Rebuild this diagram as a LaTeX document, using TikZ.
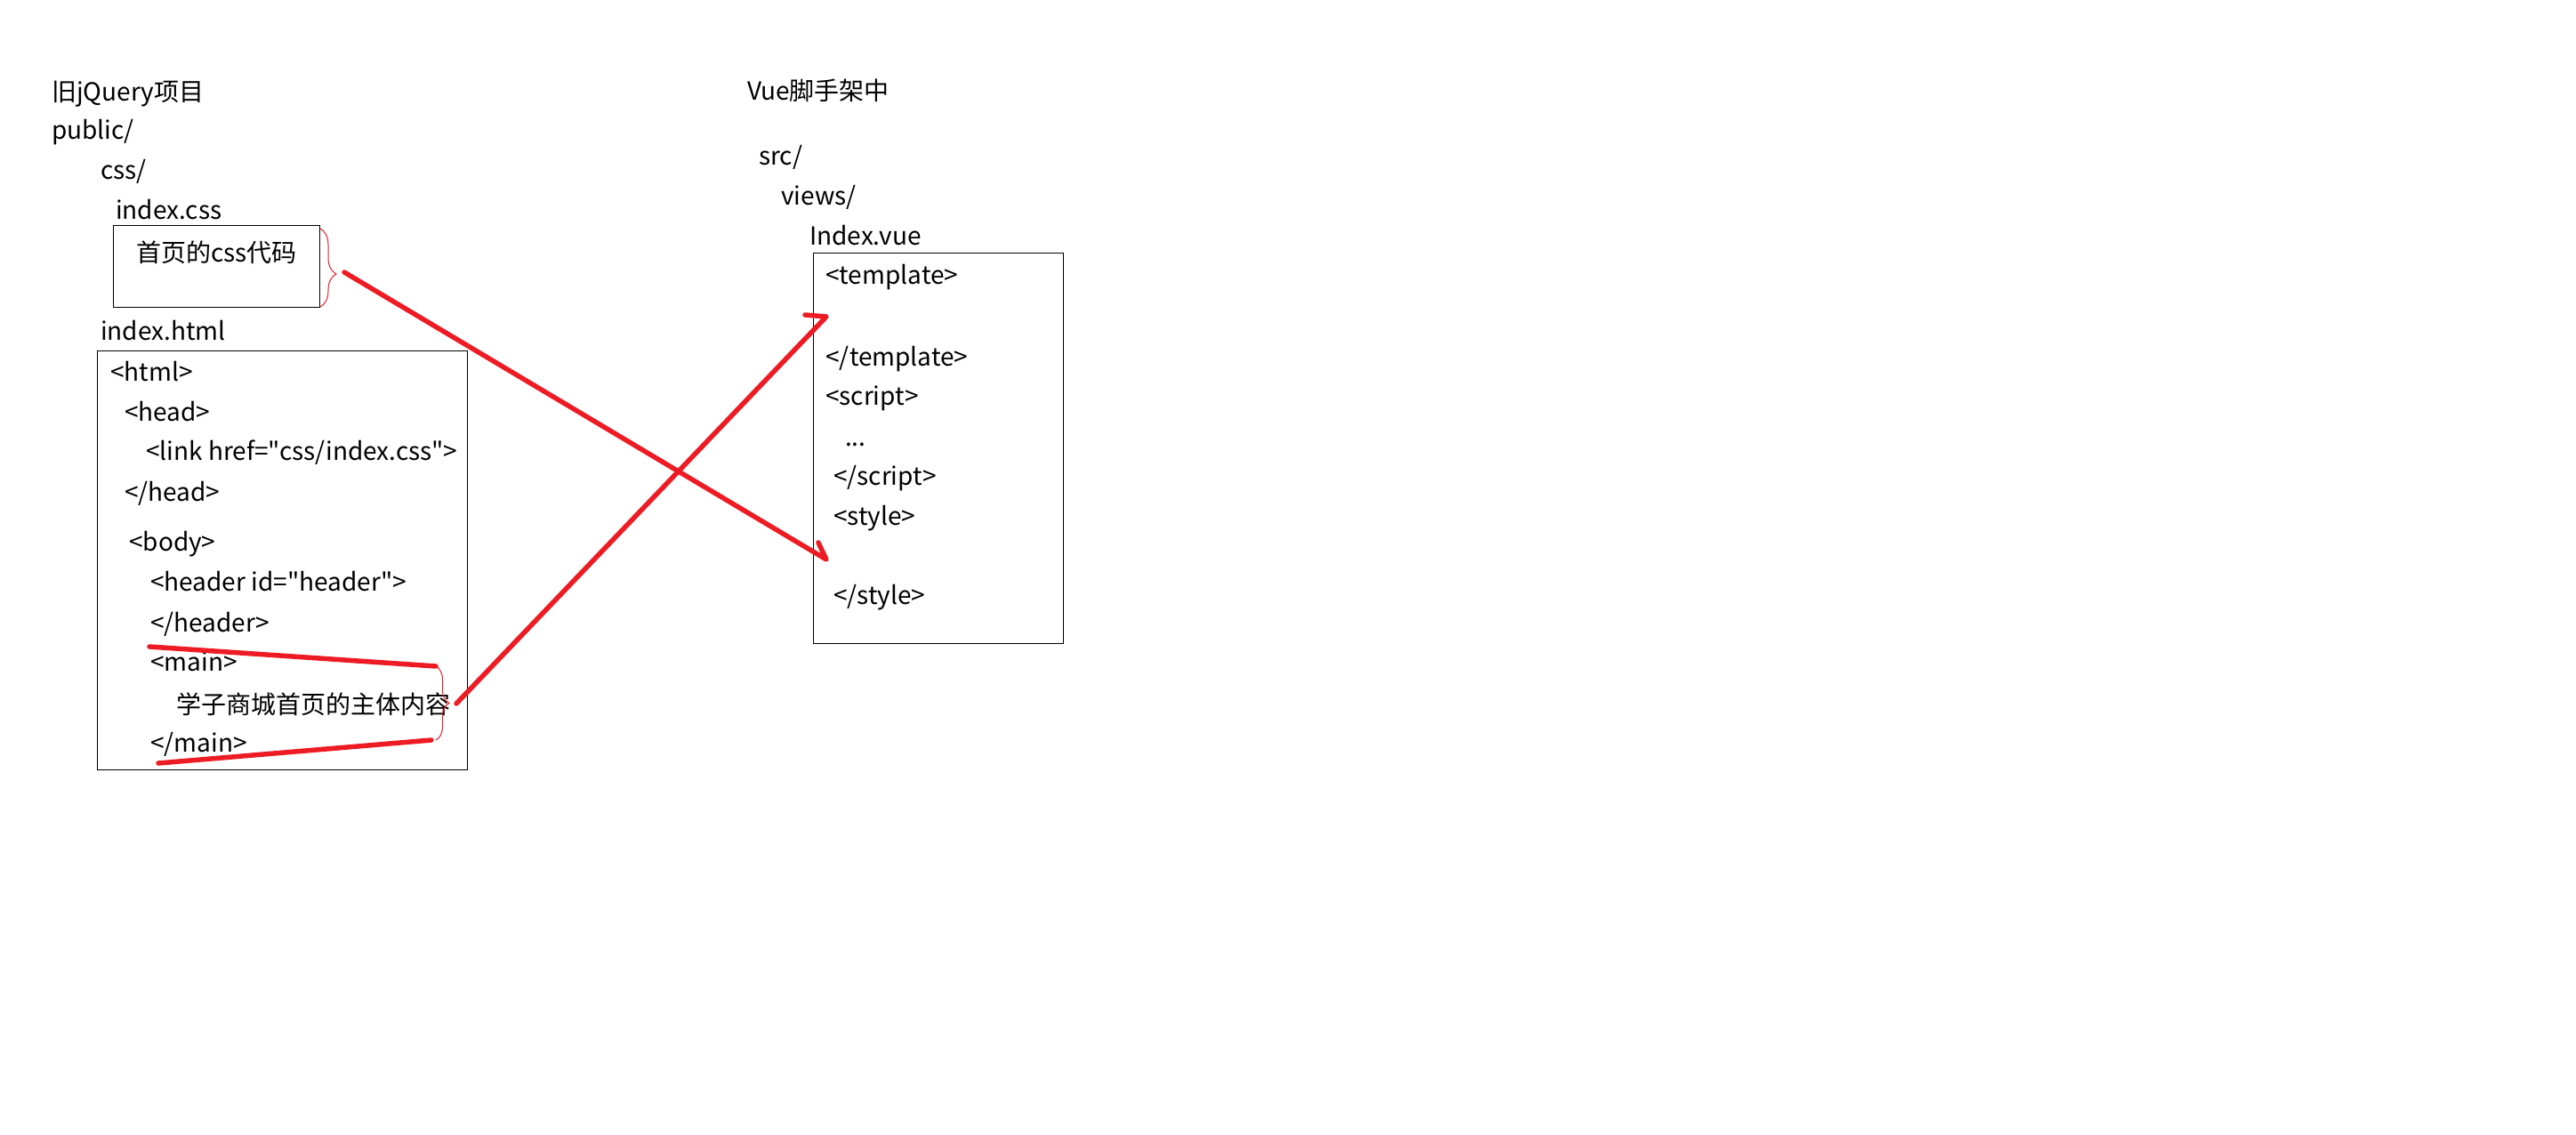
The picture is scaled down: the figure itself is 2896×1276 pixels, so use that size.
\documentclass[tikz,border=0pt]{standalone}
\usepackage{fontspec}
\setmainfont{Noto Sans CJK SC}[Ligatures=TeXOff]
\usetikzlibrary{decorations.pathreplacing}
\definecolor{pred}{RGB}{237,28,36}
\begin{document}
\begin{tikzpicture}[x=1pt,y=-1pt,
  txt/.style={anchor=base west, inner sep=0pt, font=\fontsize{28}{34}\selectfont},
  box/.style={draw=black, line width=1.3pt, anchor=north west, inner sep=0pt},
  redpen/.style={draw=pred, line width=5.5pt, line cap=round, line join=round},
  bracepen/.style={draw=pred, line width=1pt, decorate, decoration={brace, amplitude=#1}}]
\useasboundingbox[fill=white] (0,0) rectangle (2896,1276);

% boxes
\node[box, minimum width=232pt, minimum height=92pt] (cssbox) at (127,253) {};
\node[box, minimum width=416pt, minimum height=471pt] (htmlbox) at (109,394) {};
\node[box, minimum width=281pt, minimum height=439pt] (vuebox) at (914,284) {};

% left texts
\node[txt] (t1) at (58,114) {旧jQuery项目};
\node[txt] (t2) at (58,157) {public/};
\node[txt] (t3) at (113,202) {css/};
\node[txt] (t4) at (130,247) {index.css};
\node[txt] (t5) at (153,294) {首页的css代码};
\node[txt] (t6) at (113,382) {index.html};
\node[txt] (h1) at (124,428) {<html>};
\node[txt] (h2) at (140,473) {<head>};
\node[txt] (h3) at (164,517) {<link href="css/index.css">};
\node[txt] (h4) at (140,563) {</head>};
\node[txt] (h5) at (145,619) {<body>};
\node[txt] (h6) at (169,664) {<header id="header">};
\node[txt] (h7) at (169,710) {</header>};
\node[txt] (h8) at (169,754) {<main>};
\node[txt] (h9) at (198,802) {学子商城首页的主体内容};
\node[txt] (h10) at (169,845) {</main>};

% right texts
\node[txt] (v1) at (840,113) {Vue脚手架中};
\node[txt] (v2) at (853,186) {src/};
\node[txt] (v3) at (878,230) {views/};
\node[txt] (v4) at (910,275) {Index.vue};
\node[txt] (v5) at (928,319) {<template>};
\node[txt] (v6) at (928,411) {</template>};
\node[txt] (v7) at (928,455) {<script>};
\node[txt] (v8) at (950,501) {...};
\node[txt] (v9) at (937,545) {</script>};
\node[txt] (v10) at (937,590) {<style>};
\node[txt] (v11) at (937,679) {</style>};

% braces
\coordinate (b1top) at (360,257);
\coordinate (b1bot) at (360,345);
\draw[bracepen=18pt, decoration={aspect=0.58}] (b1top) -- (b1bot);
\coordinate (b2top) at (490,749);
\coordinate (b2bot) at (490,832);
\draw[bracepen=15pt] (b2top) -- (b2bot);

% underline strokes around main
\coordinate (m1a) at (168,727);
\coordinate (m1b) at (490,749);
\coordinate (m2a) at (178,858);
\coordinate (m2b) at (485,832);
\draw[redpen] (m1a) -- (m1b);
\draw[redpen] (m2a) -- (m2b);

% arrows
\coordinate (cssout) at (387,306);
\coordinate (styleslot) at (929,629);
\coordinate (stylebarb) at (920,610);
\draw[redpen] (cssout) -- (styleslot) -- (stylebarb);
\coordinate (mainout) at (513,791);
\coordinate (tplslot) at (929,356);
\coordinate (tplbarb) at (905,354);
\draw[redpen] (mainout) -- (tplslot) -- (tplbarb);
\end{tikzpicture}
\end{document}
